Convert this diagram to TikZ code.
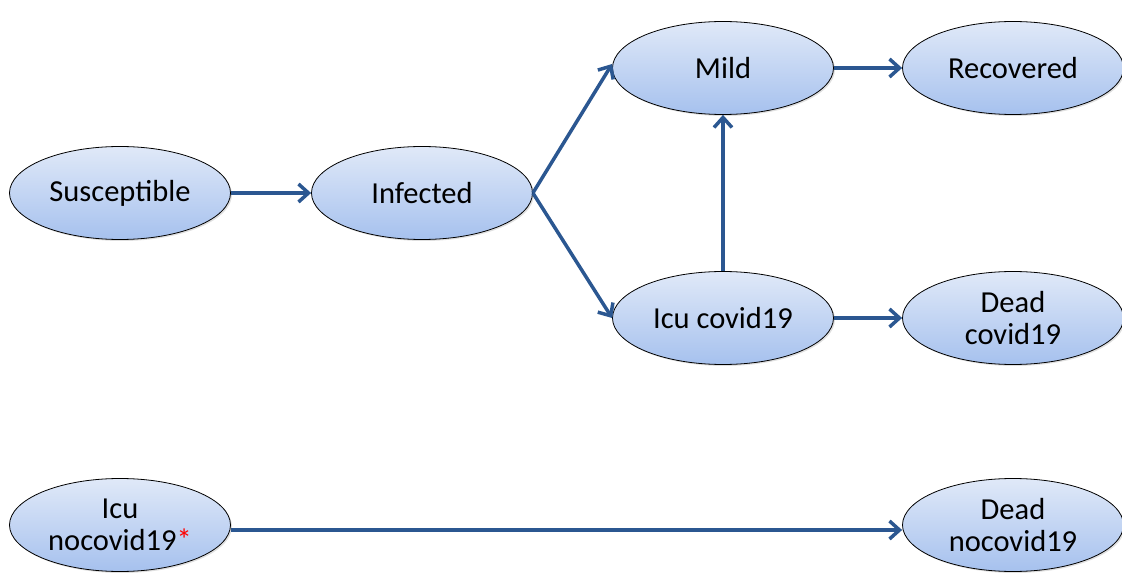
\documentclass[tikz,border=0pt]{standalone}
\usepackage{fontspec}
\setmainfont{Carlito}
\usetikzlibrary{shapes.geometric,arrows.meta,shadows}
\definecolor{topc}{HTML}{E0E9F8}
\definecolor{botc}{HTML}{A6C1EE}
\definecolor{arr}{HTML}{2B5791}
\tikzset{
  st/.style={ellipse, draw=black, line width=0.8pt, top color=topc, bottom color=botc,
    minimum width=221pt, minimum height=93pt, inner sep=0pt, align=center,
    font=\fontsize{30.5}{32}\selectfont,
    drop shadow={shadow xshift=1.5pt, shadow yshift=-1.5pt, opacity=0.25}},
  ar/.style={draw=arr, line width=3.5pt, -{Straight Barb[length=10pt,width=18pt,line width=3.5pt]}}
}
\begin{document}
\begin{tikzpicture}[x=1pt,y=-1pt]
\useasboundingbox (0,0) rectangle (1122,577);
\node[st] (sus) at (120,193) {Susceptible};
\node[st] (inf) at (422,193) {Infected};
\node[st] (mild) at (723,68) {Mild};
\node[st] (rec) at (1013,68) {Recovered};
\node[st] (icu) at (723,318) {Icu covid19};
\node[st] (dead) at (1013,318) {Dead\\covid19};
\node[st] (icun) at (120,525) {Icu\\nocovid19{\color{red}*}};
\node[st] (deadn) at (1013,525) {Dead\\nocovid19};
\draw[ar] (sus.east) -- (inf.west);
\draw[ar] (inf.east) -- ([yshift=4pt]mild.west);
\draw[ar] (inf.east) -- ([yshift=0pt]icu.west);
\draw[ar] (mild.east) -- (rec.west);
\draw[ar] (icu.north) -- (mild.south);
\draw[ar] (icu.east) -- (dead.west);
\draw[ar] ([yshift=-5pt]icun.east) -- ([yshift=-5pt]deadn.west);
\end{tikzpicture}
\end{document}
